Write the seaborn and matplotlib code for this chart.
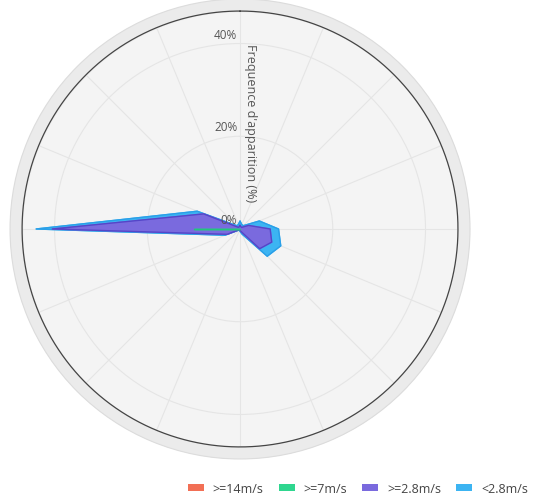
import numpy as np
import pandas as pd
import seaborn as sns
import matplotlib.pyplot as plt
from matplotlib.patches import Patch

# wind rose: 16 directions, frequency (%) per speed class
directions = ["N", "NNE", "NE", "ENE", "E", "ESE", "SE", "SSE",
              "S", "SSW", "SW", "WSW", "W", "WNW", "NW", "NNW"]
freq_14 = [0, 0, 0, 0, 0, 0, 0, 0, 0, 0, 0, 0, 0, 0, 0, 0]
freq_7 = [0, 0, 0, 0, 0, 0, 0, 0, 0, 0, 0, 0, 10.0, 0, 0, 0]
freq_2_8 = [0.8, 0.5, 0.5, 2.0, 6.5, 7.4, 6.0, 0.6, 0.3, 0.2, 0.2, 3.0, 30.5, 8.5, 0.5, 0.5]
freq_lt_2_8 = [0.9, 0.5, 0.5, 2.5, 1.8, 2.1, 2.3, 0.6, 0.2, 0.1, 0.1, 0.5, 3.5, 1.5, 0.5, 0.5]
classes = [">=14m/s", ">=7m/s", ">=2.8m/s", "<2.8m/s"]

df = pd.DataFrame({"direction": directions,
                   ">=14m/s": freq_14, ">=7m/s": freq_7,
                   ">=2.8m/s": freq_2_8, "<2.8m/s": freq_lt_2_8})
df["angle"] = np.deg2rad(np.arange(len(directions)) * 22.5)

# stacked: each class drawn on top of the previous ones
cum = df[classes].cumsum(axis=1)

fills = {">=14m/s": "#f26f55", ">=7m/s": "#2fd68f",
         ">=2.8m/s": "#7a6ade", "<2.8m/s": "#3cb4f2"}
edges = {">=14m/s": "#e05a40", ">=7m/s": "#22c47d",
         ">=2.8m/s": "#5446c8", "<2.8m/s": "#2a9fe8"}

sns.set_theme(style="white")
plt.rcParams["font.family"] = ["Open Sans", "DejaVu Sans"]

fig = plt.figure(figsize=(5.42, 5.02), dpi=100)
ax = fig.add_axes([0.0185, 0.0837, 0.8487, 0.9163], projection="polar")
ax.set_theta_zero_location("N")
ax.set_theta_direction(-1)

rmax = 47.0
ax.set_ylim(0, 49.6)
ax.set_facecolor("#f4f4f4")

theta = np.append(df["angle"].values, df["angle"].values[0])
# draw the biggest (outer) stack first
for i, name in enumerate(reversed(classes)):
    r = np.append(cum[name].values, cum[name].values[0])
    ax.fill(theta, r, color=fills[name], zorder=2 + i)
    ax.plot(theta, r, color=edges[name], lw=1.0, zorder=2 + i)

# grid
ax.set_xticks(np.deg2rad(np.arange(0, 360, 22.5)))
ax.set_xticklabels([])
ax.set_yticks([20, 40])
ax.set_yticklabels([])
ax.grid(True, color="#e5e5e5", lw=0.8)

# outer ring
ring = np.linspace(0, 2 * np.pi, 400)
ax.fill_between(ring, rmax, 49.6, color="#ebebeb", zorder=1)
ax.plot(ring, np.full_like(ring, rmax), color="#444444", lw=0.9, zorder=1.5)
ax.spines["polar"].set_color("#dcdcdc")
ax.spines["polar"].set_linewidth(0.8)

# radial labels on the north spoke
for v in [0, 20, 40]:
    ax.annotate(f"{v}%", xy=(0, v), xytext=(-2, 2), textcoords="offset points",
                ha="right", va="bottom", fontsize=8.5, color="#555555", zorder=10)
ax.annotate("Frequence d'apparition (%)", xy=(0, 40.2), xytext=(3, 0),
            textcoords="offset points", ha="left", va="top", rotation=270,
            fontsize=9, color="#555555", zorder=10)

handles = [Patch(facecolor=fills[c], edgecolor="none") for c in classes]
fig.legend(handles, classes, loc="center right", bbox_to_anchor=(0.995, 0.025),
           ncol=4, frameon=False, fontsize=9, handlelength=1.3, handleheight=0.5,
           handletextpad=0.7, columnspacing=1.2, labelcolor="#444444")

plt.savefig("out.png", dpi=100)
plt.close()
